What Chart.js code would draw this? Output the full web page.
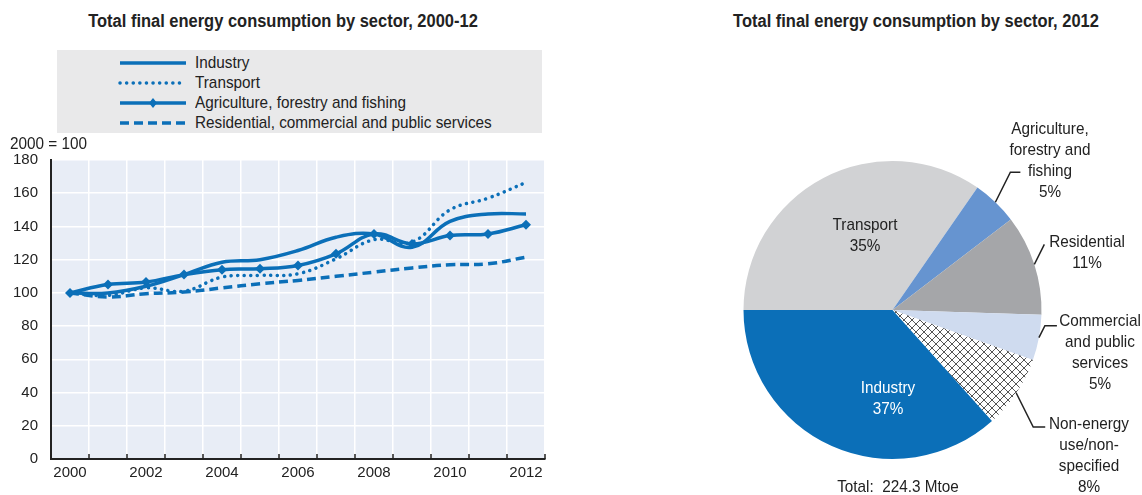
<!DOCTYPE html>
<html>
<head>
<meta charset="utf-8">
<script src="https://cdn.jsdelivr.net/npm/chart.js@4.4.0/dist/chart.umd.min.js"></script>
<style>
  body { margin: 0; background: #fff; width: 1142px; height: 495px; overflow: hidden; position: relative;
         font-family: "Liberation Sans", Arial, sans-serif; color: #222; }
  .abs { position: absolute; }
  /* squeeze the text a bit, the original uses a condensed face */
  .title { font-weight: bold; font-size: 18px; white-space: nowrap; transform: translateX(-50%) scaleX(0.915); }
  .lbl { font-size: 17px; line-height: 21px; text-align: center; white-space: nowrap; transform: translateX(-50%) scaleX(0.9); }
  #legend { left: 57px; top: 50px; width: 485px; height: 83px; background: #e9e9ea; }
  .leg-row { position: absolute; left: 61px; height: 20px; display: flex; align-items: center; font-size: 17px; }
  .leg-row svg { margin-right: 7px; }
  .leg-row span { display: inline-block; transform: scaleX(0.9); transform-origin: left center; white-space: nowrap; }
</style>
</head>
<body>
<div class="abs title" style="left:283px; top:11px;">Total final energy consumption by sector, 2000-12</div>
<div class="abs title" style="left:916px; top:11px;">Total final energy consumption by sector, 2012</div>

<canvas id="lineChart" class="abs" style="left:0; top:0;" width="560" height="495"></canvas>
<canvas id="pieChart" class="abs" style="left:600px; top:0;" width="542" height="495"></canvas>

<div id="legend" class="abs"></div>
<div class="abs" style="left:10px; top:134px; font-size:17px; transform:scaleX(0.9); transform-origin:left center; white-space:nowrap;">2000 = 100</div>
<div id="pieLabels"></div>

<script>
// ---- line chart data ----
const years = ['2000','2001','2002','2003','2004','2005','2006','2007','2008','2009','2010','2011','2012'];
const industry    = [100, 100, 104, 111, 118.5, 120, 125.5, 133.5, 135.5, 127.5, 143, 147.5, 147.5];
const transport   = [100, 98.5, 103, 101, 109.5, 110.5, 111.5, 120.5, 132, 130.5, 150, 157, 166.5];
const agriculture = [100, 105, 106.5, 111, 114, 114.5, 116.5, 123.5, 135.5, 129.5, 134.5, 135.5, 141];
const residential = [100, 97.5, 99.5, 100.5, 103, 105.5, 107.5, 110, 112.5, 115, 117, 117.5, 121.5];
const yTicks = [0, 20, 40, 60, 80, 100, 120, 140, 160, 180];

// ---- pie chart data ----
const sectors2012 = ['Transport', 'Agriculture, forestry and fishing', 'Residential',
                     'Commercial and public services', 'Non-energy use/non-specified', 'Industry'];
const shares2012 = [35, 5, 11, 5, 8, 37];
const totalMtoe = 224.3;

const BLUE = '#0b6fb8';
const FONT = "'Liberation Sans', Arial";

// legend (html)
const legendItems = [
  { name: 'Industry', dash: '', marker: false },
  { name: 'Transport', dash: '0.1 6.5', marker: false },
  { name: 'Agriculture, forestry and fishing', dash: '', marker: true },
  { name: 'Residential, commercial and public services', dash: '9 5', marker: false }
];
const legendEl = document.getElementById('legend');
legendItems.forEach((it, i) => {
  const row = document.createElement('div');
  row.className = 'leg-row';
  row.style.top = (3 + i * 20) + 'px';
  const marker = it.marker ? `<polygon points="35,5 39,10 35,15 31,10" fill="${BLUE}"/>` : '';
  row.innerHTML = `<svg width="70" height="20"><line x1="2" y1="10" x2="68" y2="10" stroke="${BLUE}" stroke-width="3.5"
     stroke-linecap="${it.dash.startsWith('0.1') ? 'round' : 'butt'}" ${it.dash ? `stroke-dasharray="${it.dash}"` : ''}/>${marker}</svg><span>${it.name}</span>`;
  legendEl.appendChild(row);
});

// plot background + inward tick marks on the x axis at category boundaries
const plotDeco = {
  id: 'plotDeco',
  beforeDraw(chart) {
    const a = chart.chartArea, ctx = chart.ctx;
    ctx.save();
    ctx.fillStyle = '#e8edf6';
    ctx.fillRect(a.left, a.top, a.right - a.left, a.bottom - a.top);
    ctx.restore();
  },
  afterDraw(chart) {
    const a = chart.chartArea, ctx = chart.ctx, xs = chart.scales.x;
    ctx.save();
    ctx.strokeStyle = '#222';
    ctx.lineWidth = 1.5;
    ctx.beginPath();
    for (let i = 0; i <= years.length; i++) {
      const x = xs.getPixelForValue(i - 0.5);
      ctx.moveTo(x, a.bottom);
      ctx.lineTo(x, a.bottom - 5);
    }
    ctx.stroke();
    ctx.restore();
  }
};

const lineDs = (label, data, extra) => Object.assign({
  label, data,
  borderColor: BLUE, backgroundColor: BLUE,
  borderWidth: 3.5, tension: 0.4, pointRadius: 0, fill: false
}, extra);

new Chart(document.getElementById('lineChart'), {
  type: 'line',
  data: {
    labels: years,
    datasets: [
      lineDs('Industry', industry),
      lineDs('Transport', transport, { borderDash: [0.1, 6.5], borderCapStyle: 'round' }),
      lineDs('Agriculture, forestry and fishing', agriculture, { pointRadius: 5, pointStyle: 'rectRot', pointBorderWidth: 0 }),
      lineDs('Residential, commercial and public services', residential, { borderDash: [9, 5] })
    ]
  },
  options: {
    responsive: false,
    animation: false,
    layout: { padding: { top: 160, right: 15, left: 0, bottom: 0 } },
    plugins: { legend: { display: false }, tooltip: { enabled: false } },
    scales: {
      x: {
        offset: true,
        grid: { offset: true, color: '#ffffff', lineWidth: 1.5, drawTicks: false },
        border: { display: true, color: '#222', width: 2 },
        ticks: {
          autoSkip: false, maxRotation: 0, padding: 5, color: '#222',
          font: { family: FONT, size: 15 },
          callback: (v, i) => (i % 2 === 0 ? years[i] : '')
        },
        afterFit: s => { s.height = 36; }
      },
      y: {
        min: 0, max: 180,
        afterBuildTicks: s => { s.ticks = yTicks.map(v => ({ value: v })); },
        grid: { color: '#ffffff', lineWidth: 1.5, drawTicks: false },
        border: { display: true, color: '#222', width: 2 },
        ticks: { padding: 13, color: '#222', font: { family: FONT, size: 15 } },
        afterFit: s => { s.width = 51; }
      }
    }
  },
  plugins: [plotDeco]
});

// ---- pie ----
function hatch() {
  const c = document.createElement('canvas');
  c.width = 8; c.height = 8;
  const g = c.getContext('2d');
  g.fillStyle = '#fff'; g.fillRect(0, 0, 8, 8);
  g.strokeStyle = '#555'; g.lineWidth = 1;
  g.beginPath();
  g.moveTo(-1, -1); g.lineTo(9, 9);
  g.moveTo(-1, 9); g.lineTo(9, -1);
  g.stroke();
  return g.createPattern(c, 'repeat');
}
const pieColors = ['#d1d2d4', '#6694d0', '#a5a6a9', '#cfdbef', hatch(), BLUE];

// elbow leader lines: offsets from the slice's outer edge at its mid angle
const leaders = {
  1: [[15, -30], [25, -30]],
  2: [[10, -20]],
  3: [[6, -12], [18, -12]],
  4: [[17, 34], [29, 34]]
};
const leaderPlugin = {
  id: 'leaders',
  afterDraw(chart) {
    const ctx = chart.ctx;
    const arcs = chart.getDatasetMeta(0).data;
    ctx.save();
    ctx.strokeStyle = '#222';
    ctx.lineWidth = 1.5;
    Object.keys(leaders).forEach(k => {
      const a = arcs[k];
      const mid = (a.startAngle + a.endAngle) / 2;
      const sx = a.x + Math.cos(mid) * a.outerRadius;
      const sy = a.y + Math.sin(mid) * a.outerRadius;
      ctx.beginPath();
      ctx.moveTo(sx, sy);
      leaders[k].forEach(p => ctx.lineTo(sx + p[0], sy + p[1]));
      ctx.stroke();
    });
    ctx.restore();
  }
};

new Chart(document.getElementById('pieChart'), {
  type: 'pie',
  data: {
    labels: sectors2012,
    datasets: [{ data: shares2012, backgroundColor: pieColors, borderWidth: 0 }]
  },
  options: {
    responsive: false,
    animation: false,
    rotation: -90,
    layout: { padding: { left: 143.5, right: 100.5, top: 161, bottom: 36 } },
    plugins: { legend: { display: false }, tooltip: { enabled: false } }
  },
  plugins: [leaderPlugin]
});

// pie labels (html text)
const pieLabelLines = [
  ['Transport'],
  ['Agriculture,', 'forestry and', 'fishing'],
  ['Residential'],
  ['Commercial', 'and public', 'services'],
  ['Non-energy', 'use/non-', 'specified'],
  ['Industry']
];
const pieLabelPos = [[865, 224, '#222'], [1050, 128, '#222'], [1087, 241, '#222'],
                     [1100, 320, '#222'], [1089, 423, '#222'], [888, 387, '#fff']];
const labelsEl = document.getElementById('pieLabels');
function addLabel(lines, cx, firstY, color) {
  const d = document.createElement('div');
  d.className = 'abs lbl';
  d.style.left = cx + 'px';
  d.style.top = (firstY - 10.5) + 'px';
  d.style.color = color;
  d.innerHTML = lines.join('<br>');
  labelsEl.appendChild(d);
}
pieLabelLines.forEach((lines, i) => {
  const p = pieLabelPos[i];
  addLabel(lines.concat([shares2012[i] + '%']), p[0], p[1], p[2]);
});
addLabel(['Total:&nbsp; ' + totalMtoe + ' Mtoe'], 898, 486, '#222');
</script>
</body>
</html>
